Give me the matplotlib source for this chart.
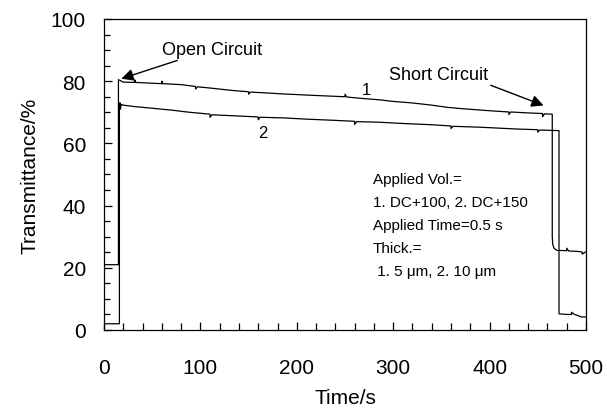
import numpy as np
import matplotlib.pyplot as plt
from matplotlib.ticker import MultipleLocator

plt.rcParams['font.family'] = ['Liberation Sans', 'DejaVu Sans']

# curve 1: 5 um, DC+100
time1 = [0, 15, 15, 20, 32, 32, 33, 60, 60, 61, 80, 95, 95, 97, 110, 134, 150, 150, 152,
         170, 186, 200, 220, 250, 250, 252, 270, 286, 300, 320, 340, 356, 370, 400, 420,
         420, 422, 440, 455, 455, 457, 465, 465, 465.5, 467, 470, 480, 480, 482, 490, 496,
         496, 500]
trans1 = [21, 21, 80.5, 79.7, 79.6, 80.4, 79.6, 79.2, 80.0, 79.2, 78.9, 78.3, 77.5, 78.2,
          77.8, 77.0, 76.6, 75.8, 76.5, 76.2, 75.9, 75.7, 75.4, 75.0, 75.8, 74.9, 74.4,
          74.0, 73.5, 73.0, 72.3, 71.6, 71.2, 70.5, 70.1, 69.3, 70.1, 69.8, 69.6, 68.6,
          69.5, 69.4, 30, 27.5, 26.2, 25.6, 25.5, 26.3, 25.4, 25.3, 25.1, 24.4, 25.2]

# curve 2: 10 um, DC+150
time2 = [0, 16, 16, 17, 17, 18, 20, 30, 50, 70, 89, 110, 110, 112, 140, 160, 160, 162,
         186, 210, 240, 260, 260, 262, 286, 310, 340, 360, 360, 362, 390, 410, 430, 450,
         450, 452, 472, 472, 480, 485, 485, 488, 492, 495, 500]
trans2 = [2, 2, 73.0, 73.0, 71.0, 72.5, 72.3, 71.9, 71.3, 70.7, 70.0, 69.4, 68.4, 69.2,
          68.8, 68.5, 67.6, 68.4, 68.2, 67.8, 67.4, 67.1, 66.1, 67.0, 66.8, 66.4, 66.0,
          65.6, 64.8, 65.5, 65.2, 64.9, 64.6, 64.4, 63.6, 64.3, 64.1, 5.2, 5.0,
          5.0, 5.7, 5.0, 4.6, 4.2, 4.2]

fig = plt.figure(figsize=(6.07, 4.14), dpi=100)
ax = fig.add_axes([0.1713, 0.2005, 0.7941, 0.7512])

ax.plot(time1, trans1, color='black', lw=0.9)
ax.plot(time2, trans2, color='black', lw=0.9)

ax.set_xlim(0, 500)
ax.set_ylim(0, 100)
ax.xaxis.set_major_locator(MultipleLocator(100))
ax.xaxis.set_minor_locator(MultipleLocator(20))
ax.yaxis.set_major_locator(MultipleLocator(20))
ax.yaxis.set_minor_locator(MultipleLocator(5))
ax.tick_params(axis='both', which='both', direction='in', top=False, right=False,
               labelsize=15, width=0.9)
ax.tick_params(axis='x', which='major', length=6, pad=20)
ax.tick_params(axis='x', which='minor', length=5)
ax.tick_params(axis='y', which='major', length=6, pad=13)
ax.tick_params(axis='y', which='minor', length=4)
for s in ax.spines.values():
    s.set_linewidth(0.9)

ax.set_xlabel('Time/s', fontsize=15, labelpad=8)
ax.set_ylabel('Transmittance/%', fontsize=15, labelpad=8)

ax.annotate('Open Circuit', xy=(18, 80.8), xytext=(60, 90.3), fontsize=13,
            va='center', ha='left',
            arrowprops=dict(arrowstyle='-|>', color='black', lw=1.0, mutation_scale=18,
                            shrinkA=0, shrinkB=0))
ax.annotate('Short Circuit', xy=(456, 72.2), xytext=(296, 82.3), fontsize=13,
            va='center', ha='left',
            arrowprops=dict(arrowstyle='-|>', color='black', lw=1.0, mutation_scale=18,
                            shrinkA=0, shrinkB=0, relpos=(0.95, 0.0)))

ax.text(272, 77.3, '1', fontsize=12, ha='center', va='center')
ax.text(165, 63.5, '2', fontsize=12, ha='center', va='center')

info = ['Applied Vol.=', '1. DC+100, 2. DC+150', 'Applied Time=0.5 s', 'Thick.=',
        ' 1. 5 \u03bcm, 2. 10 \u03bcm']
for i, line in enumerate(info):
    ax.text(279, 48.5 - i * 7.4, line, fontsize=11, ha='left', va='center')

fig.savefig('out.png', dpi=100)
